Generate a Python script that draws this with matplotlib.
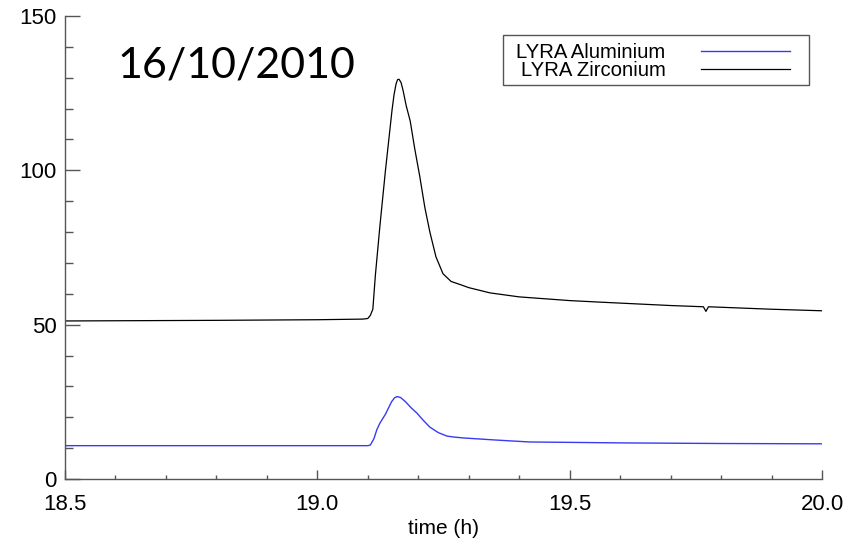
import numpy as np
import matplotlib
matplotlib.use("Agg")
import matplotlib.pyplot as plt
from matplotlib.patches import Rectangle
from matplotlib.ticker import MultipleLocator

# LYRA Zirconium channel (black)
t_zr = [18.50, 18.80, 19.00, 19.09, 19.100, 19.105, 19.110, 19.115, 19.124, 19.135,
        19.148, 19.152, 19.156, 19.159, 19.162, 19.166, 19.170, 19.176, 19.184, 19.193,
        19.203, 19.213, 19.223, 19.235, 19.249, 19.265, 19.283, 19.300, 19.342, 19.40,
        19.50, 19.56, 19.70, 19.765, 19.770, 19.775, 19.90, 20.00]
zr = [51.2, 51.4, 51.6, 51.8, 52.0, 53.0, 55.0, 66.0, 82.0, 100.0,
      119.5, 124.5, 128.0, 129.4, 129.5, 128.4, 125.8, 121.0, 116.0, 107.0,
      98.0, 88.0, 80.0, 72.0, 66.5, 64.0, 63.0, 62.0, 60.3, 59.0,
      57.8, 57.3, 56.2, 55.8, 54.3, 55.8, 55.0, 54.5]

# LYRA Aluminium channel (blue)
t_al = [18.50, 19.10, 19.105, 19.112, 19.118, 19.124, 19.135, 19.147, 19.153, 19.158,
        19.165, 19.175, 19.185, 19.197, 19.210, 19.223, 19.240, 19.257, 19.270, 19.289,
        19.356, 19.42, 19.60, 19.80, 20.00]
al = [10.8, 10.8, 11.0, 13.0, 16.0, 18.1, 21.0, 25.0, 26.3, 26.7,
      26.4, 25.0, 23.2, 21.4, 19.0, 16.8, 15.0, 13.9, 13.6, 13.3,
      12.6, 12.0, 11.7, 11.5, 11.4]

x_ticks = [18.5, 19.0, 19.5, 20.0]
x_labels = ["18.5", "19.0", "19.5", "20.0"]
y_ticks = [0, 50, 100, 150]

plt.rcParams['font.family'] = ['Liberation Sans', 'DejaVu Sans']

fig = plt.figure(figsize=(8.51, 5.44), dpi=100)
ax = fig.add_axes([65/851, 1-479/544, 757/851, 463/544])

ax.plot(t_al, al, color='#3a3af5', lw=1.0, label='LYRA Aluminium')
ax.plot(t_zr, zr, color='black', lw=0.9, label='LYRA Zirconium')

ax.set_xlim(18.5, 20.0)
ax.set_ylim(0, 150)
ax.set_xticks(x_ticks)
ax.set_xticklabels(x_labels)
ax.set_yticks(y_ticks)
ax.xaxis.set_minor_locator(MultipleLocator(0.1))
ax.yaxis.set_minor_locator(MultipleLocator(10))

for s in ['top', 'right']:
    ax.spines[s].set_visible(False)
for s in ['left', 'bottom']:
    ax.spines[s].set_color('#555555')
    ax.spines[s].set_linewidth(1.0)

ax.tick_params(axis='both', which='both', direction='in', color='#555555', labelsize=16, width=1.0)
ax.tick_params(axis='x', which='major', length=6.5, pad=11)
ax.tick_params(axis='x', which='minor', length=3.2)
ax.tick_params(axis='y', which='major', length=10.8, pad=6)
ax.tick_params(axis='y', which='minor', length=5.4)

ax.set_xlabel('time (h)', fontsize=15, labelpad=3)

# legend entries without frame, frame drawn separately to match the IDL box
leg = ax.legend(loc='upper left', bbox_to_anchor=((506-65)/757, 1-(32.5-16)/463),
                markerfirst=False, fontsize=14.6, frameon=False,
                handlelength=4.4, handletextpad=1.75, borderpad=0.5,
                labelspacing=-0.05, borderaxespad=0)
fig.patches.append(Rectangle((503/851, 1-85/544), 306/851, 50/544,
                             transform=fig.transFigure, fill=False,
                             edgecolor='#555555', linewidth=1.0))

fig.text(117/851, 1-66/544, '16/10/2010', fontsize=31, family=['Lato', 'DejaVu Sans'],
         ha='left', va='center')

fig.savefig('out.png', dpi=100)
